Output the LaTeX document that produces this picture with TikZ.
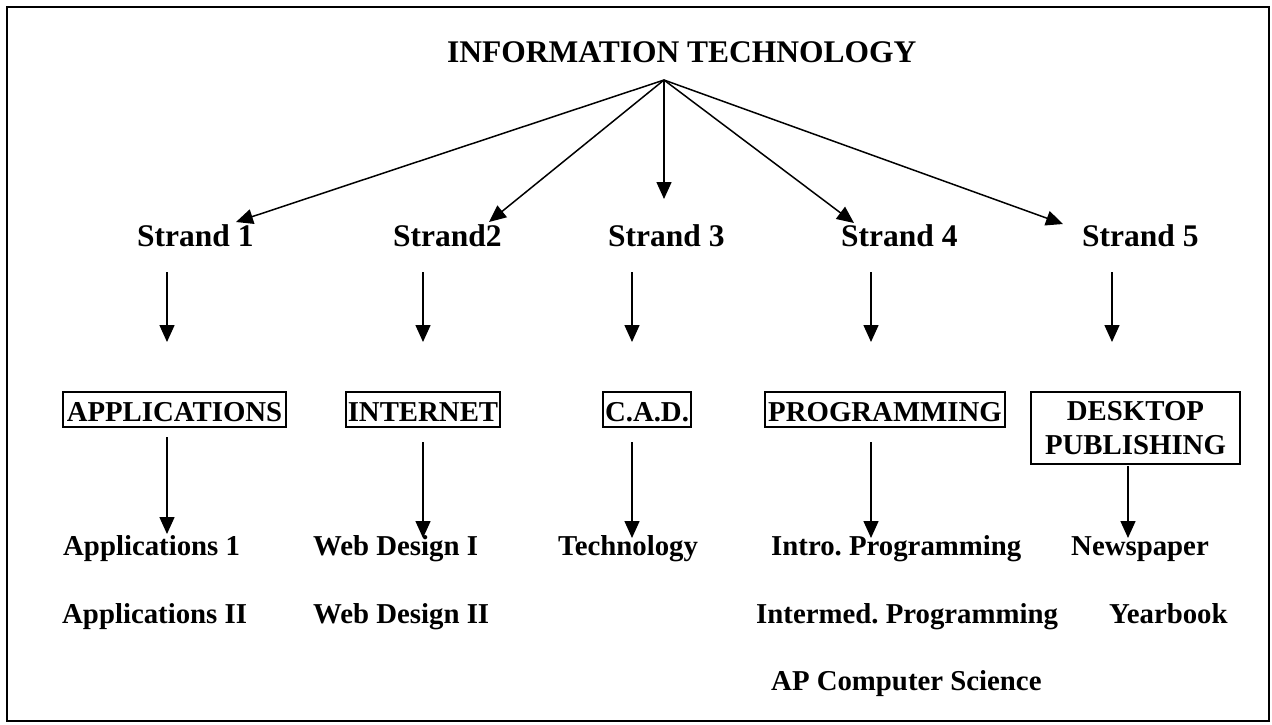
\documentclass[tikz,border=0pt]{standalone}
\usepackage{fontspec}
\setmainfont{Liberation Serif}
\usetikzlibrary{arrows.meta}
\frenchspacing
\begin{document}
\begin{tikzpicture}[x=1pt,y=-1pt,
  big/.style={font=\fontsize{31.5}{36}\selectfont\bfseries\frenchspacing, inner sep=0pt},
  small/.style={font=\fontsize{28.8}{34}\selectfont\bfseries\frenchspacing, inner sep=0pt},
  boxnode/.style={small, draw, line width=1.5pt, inner sep=0pt, text height=23pt, text depth=0pt},
  arr/.style={line width=1.5pt, -{Triangle[length=17pt,width=15pt]}}]
\useasboundingbox (0,0) rectangle (1272,724);
\draw[line width=1.5pt] (7,7) rectangle (1269,721);

% heading
\node[big, anchor=base west] (it) at (447,62) {INFORMATION TECHNOLOGY};
\coordinate (hub) at (664,80);

% strands
\node[big, anchor=base west] (s1) at (137,246) {Strand 1};
\node[big, anchor=base west] (s2) at (393,246) {Strand2};
\node[big, anchor=base west] (s3) at (608,246) {Strand 3};
\node[big, anchor=base west] (s4) at (841,246) {Strand 4};
\node[big, anchor=base west] (s5) at (1082,246) {Strand 5};

\coordinate (t1) at (236,222);
\coordinate (t2) at (489,222);
\coordinate (t3) at (664,199);
\coordinate (t4) at (854,223);
\coordinate (t5) at (1063,224);
\foreach \t in {t1,t2,t3,t4,t5} \draw[arr] (hub) -- (\t);

% boxes
\node[boxnode, minimum width=223, minimum height=35] (b1) at (174.5,409.5) {APPLICATIONS};
\node[boxnode, minimum width=154, minimum height=35] (b2) at (423,409.5) {INTERNET};
\node[boxnode, minimum width=88, minimum height=35] (b3) at (647,409.5) {C.A.D.};
\node[boxnode, minimum width=240, minimum height=35] (b4) at (885,409.5) {PROGRAMMING};
\node[small, draw, line width=1.5pt, align=center, minimum width=209, minimum height=72] (b5) at (1135.5,428) {DESKTOP\\PUBLISHING};

% strand -> box arrows
\foreach \i/\x in {1/167,2/423,3/632,4/871,5/1112}{
  \coordinate (u\i) at (\x,272);
  \coordinate (v\i) at (\x,342);
  \draw[arr] (u\i) -- (v\i);
}

% box -> course arrows
\coordinate (p1) at (167,437); \coordinate (q1) at (167,534);
\coordinate (p2) at (423,442); \coordinate (q2) at (423,538);
\coordinate (p3) at (632,442); \coordinate (q3) at (632,538);
\coordinate (p4) at (871,442); \coordinate (q4) at (871,538);
\coordinate (p5) at (1128,466); \coordinate (q5) at (1128,538);
\foreach \i in {1,...,5} \draw[arr] (p\i) -- (q\i);

% courses
\node[small, anchor=base west] (c11) at (63,555) {Applications 1};
\node[small, anchor=base west] (c12) at (62,623) {Applications II};
\node[small, anchor=base west] (c21) at (313,555) {Web Design I};
\node[small, anchor=base west] (c22) at (313,623) {Web Design II};
\node[small, anchor=base west] (c31) at (558,555) {Technology};
\node[small, anchor=base west] (c41) at (771,555) {Intro. Programming};
\node[small, anchor=base west] (c42) at (756,623) {Intermed. Programming};
\node[small, anchor=base west] (c43) at (771,690) {AP Computer Science};
\node[small, anchor=base west] (c51) at (1071,555) {Newspaper};
\node[small, anchor=base west] (c52) at (1109,623) {Yearbook};
\end{tikzpicture}
\end{document}
